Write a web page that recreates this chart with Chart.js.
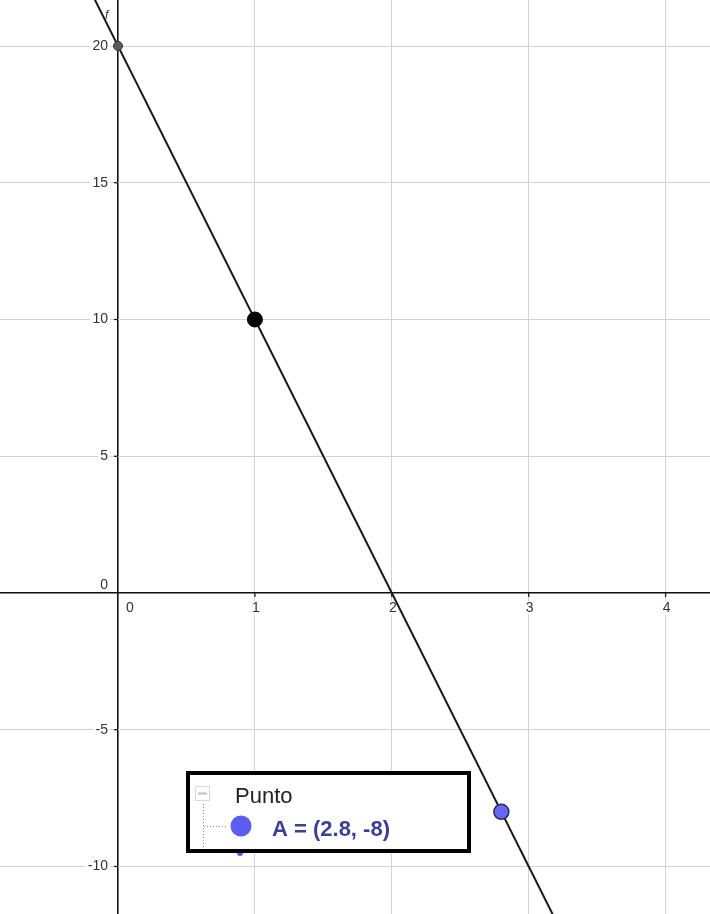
<!DOCTYPE html>
<html>
<head>
<meta charset="utf-8">
<script src="https://cdn.jsdelivr.net/npm/chart.js@4/dist/chart.umd.min.js"></script>
<style>
  html, body { margin: 0; padding: 0; background: #fff; }
  #wrap { width: 710px; height: 914px; }
</style>
</head>
<body>
<div id="wrap"><canvas id="plot" width="710" height="914"></canvas></div>
<script>
// f(x) = 20 - 10x, drawn through the two ends of the visible window
const lineXs = [-1, 4.5];
const lineYs = [30, -25];

// marked points: (0, 20), (1, 10) and the free point A
const pointXs = [0, 1, 2.8];
const pointYs = [20, 10, -8];

// grid / tick values and their labels
const xTickValues = [0, 1, 2, 3, 4];
const xTickLabels = ['0', '1', '2', '3', '4'];
const yTickValues = [-10, -5, 0, 5, 10, 15, 20];
const yTickLabels = ['-10', '-5', '0', '5', '10', '15', '20'];

// legend entries
const legendTitle = 'Punto';
const pointName = 'A';

const X_MIN = -0.862, X_MAX = 4.324;
const Y_MIN = -11.737, Y_MAX = 21.682;

const gridColor = (ctx) => (ctx.tick && ctx.tick.value === 0) ? '#111' : '#d2d2d2';
const gridWidth = (ctx) => (ctx.tick && ctx.tick.value === 0) ? 1.6 : 1;

// axis labels and tick marks, under the graph of f
const axisLabels = {
  id: 'axisLabels',
  beforeDatasetsDraw(chart) {
    const { ctx, scales } = chart;
    const xs = scales.x, ys = scales.y;
    const x0 = xs.getPixelForValue(0), y0 = ys.getPixelForValue(0);
    ctx.save();
    ctx.font = '14px "Liberation Sans", Arial, sans-serif';
    ctx.textBaseline = 'middle';

    ctx.strokeStyle = '#111';
    ctx.lineWidth = 1.2;
    xTickValues.forEach(v => {
      if (v === 0) return;
      const px = xs.getPixelForValue(v);
      ctx.beginPath(); ctx.moveTo(px, y0); ctx.lineTo(px, y0 + 4); ctx.stroke();
    });
    yTickValues.forEach(v => {
      if (v === 0) return;
      const py = ys.getPixelForValue(v);
      ctx.beginPath(); ctx.moveTo(x0 - 4, py); ctx.lineTo(x0, py); ctx.stroke();
    });

    ctx.textAlign = 'center';
    xTickValues.forEach((v, i) => {
      let px = xs.getPixelForValue(v) + 1;
      if (v === 0) px += 11;
      const py = y0 + 15;
      const w = ctx.measureText(xTickLabels[i]).width;
      ctx.fillStyle = '#fff';
      ctx.fillRect(px - w / 2 - 2, py - 7, w + 4, 14);
      ctx.fillStyle = '#333';
      ctx.fillText(xTickLabels[i], px, py);
    });

    ctx.textAlign = 'right';
    yTickValues.forEach((v, i) => {
      let py = ys.getPixelForValue(v);
      if (v === 0) py -= 8;
      const px = x0 - 10;
      const w = ctx.measureText(yTickLabels[i]).width;
      ctx.fillStyle = '#fff';
      ctx.fillRect(px - w - 2, py - 7, w + 4, 14);
      ctx.fillStyle = '#333';
      ctx.fillText(yTickLabels[i], px, py);
    });

    ctx.font = 'italic 12px "Liberation Sans", Arial, sans-serif';
    ctx.textAlign = 'center';
    ctx.fillStyle = '#333';
    ctx.fillText('f', xs.getPixelForValue(-0.083), ys.getPixelForValue(21.1));
    ctx.restore();
  }
};

// algebra-view box on top
const algebraBox = {
  id: 'algebraBox',
  afterDatasetsDraw(chart) {
    const { ctx } = chart;
    ctx.save();
    const bx = 188, by = 773, bw = 281, bh = 78;
    ctx.fillStyle = '#fff';
    ctx.fillRect(bx, by, bw, bh);

    ctx.strokeStyle = '#d8d8d8';
    ctx.lineWidth = 1;
    ctx.strokeRect(195.5, 786.5, 14, 14);
    ctx.strokeStyle = '#bdbdbd';
    ctx.lineWidth = 2;
    ctx.beginPath(); ctx.moveTo(198, 793.5); ctx.lineTo(207, 793.5); ctx.stroke();

    ctx.strokeStyle = '#888';
    ctx.lineWidth = 1;
    ctx.setLineDash([1, 2]);
    ctx.beginPath(); ctx.moveTo(203.5, 804); ctx.lineTo(203.5, 851); ctx.stroke();
    ctx.beginPath(); ctx.moveTo(204, 826.5); ctx.lineTo(228, 826.5); ctx.stroke();
    ctx.setLineDash([]);

    ctx.textAlign = 'left';
    ctx.textBaseline = 'alphabetic';
    ctx.font = '22px "Liberation Sans", Arial, sans-serif';
    ctx.fillStyle = '#222';
    ctx.fillText(legendTitle, 235, 803);

    ctx.fillStyle = '#5c5cf0';
    ctx.beginPath(); ctx.arc(241, 826, 10.5, 0, Math.PI * 2); ctx.fill();
    ctx.beginPath(); ctx.arc(240, 853, 3, 0, Math.PI * 2); ctx.fill();

    ctx.font = 'bold 22px "Liberation Sans", Arial, sans-serif';
    ctx.fillStyle = '#3c3f92';
    ctx.fillText(`${pointName} = (${pointXs[2]}, ${pointYs[2]})`, 272, 836);

    ctx.strokeStyle = '#000';
    ctx.lineWidth = 4;
    ctx.strokeRect(bx, by, bw, bh);
    ctx.restore();
  }
};

new Chart(document.getElementById('plot'), {
  type: 'scatter',
  data: {
    datasets: [
      {
        type: 'line',
        data: lineXs.map((x, i) => ({ x, y: lineYs[i] })),
        borderColor: '#1a1a1a',
        borderWidth: 2,
        pointRadius: 0,
        fill: false,
        order: 2
      },
      {
        data: pointXs.map((x, i) => ({ x, y: pointYs[i] })),
        pointRadius: [4.5, 7.5, 7.5],
        pointBackgroundColor: ['#5a5a5a', '#000000', '#6767ef'],
        pointBorderColor: ['#333333', '#000000', '#2b2b66'],
        pointBorderWidth: [1, 1, 1.5],
        order: 1
      }
    ]
  },
  options: {
    responsive: false,
    animation: false,
    devicePixelRatio: 1,
    layout: { padding: 0, autoPadding: false },
    plugins: { legend: { display: false }, tooltip: { enabled: false } },
    scales: {
      x: {
        type: 'linear',
        min: X_MIN, max: X_MAX,
        afterBuildTicks: (s) => { s.ticks = xTickValues.map(v => ({ value: v })); },
        ticks: { display: false },
        grid: { drawTicks: false, color: gridColor, lineWidth: gridWidth },
        border: { display: false }
      },
      y: {
        type: 'linear',
        min: Y_MIN, max: Y_MAX,
        afterBuildTicks: (s) => { s.ticks = yTickValues.map(v => ({ value: v })); },
        ticks: { display: false },
        grid: { drawTicks: false, color: gridColor, lineWidth: gridWidth },
        border: { display: false }
      }
    }
  },
  plugins: [axisLabels, algebraBox]
});
</script>
</body>
</html>
